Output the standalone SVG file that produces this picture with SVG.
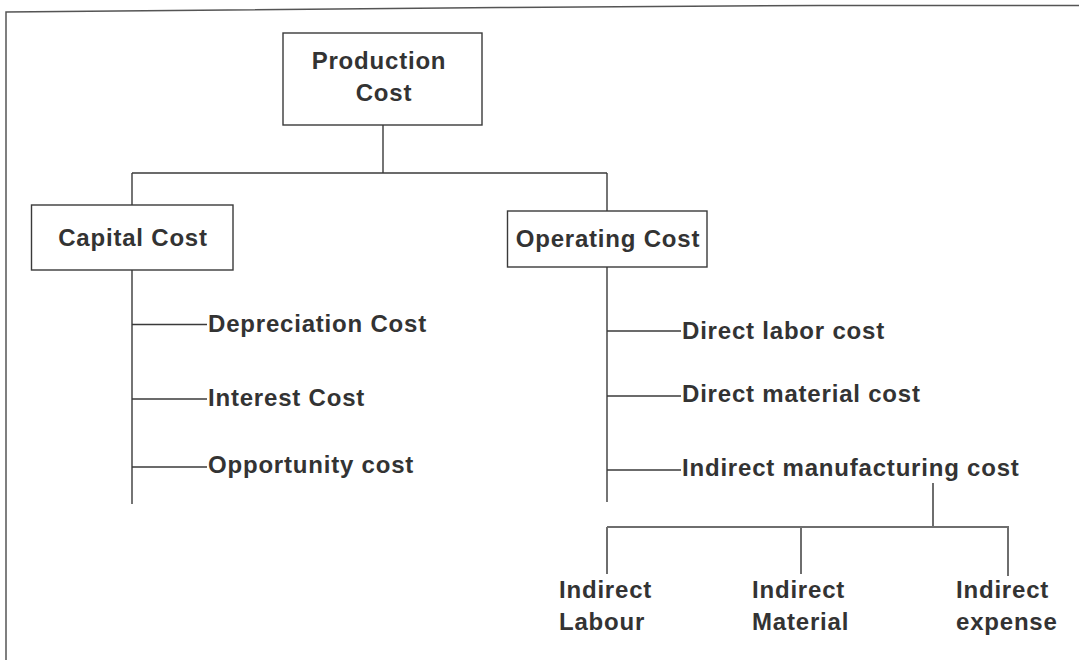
<svg xmlns="http://www.w3.org/2000/svg" width="1079" height="660" viewBox="0 0 1079 660">
  <style>
    .box { fill: #ffffff; stroke: #3a3a3a; stroke-width: 1.4; }
    .lbl { font-family: "Liberation Sans", Arial, sans-serif; font-weight: bold; font-size: 24px; letter-spacing: 0.8px; fill: #333333; }
    .mid { text-anchor: middle; }
    .wire { fill: none; stroke: #3a3a3a; stroke-width: 1.4; }
    .sub { fill: none; stroke: #6e6e6e; stroke-width: 2; }
    .frame { fill: none; stroke: #555555; stroke-width: 1.5; }
  </style>

  <rect width="1079" height="660" fill="#ffffff"/>

  <!-- page frame: top and left edges -->
  <polyline class="frame" points="6,660 6,12 500,7.5 820,5.5 1079,5.5"/>

  <!-- connectors -->
  <g id="connectors">
    <!-- root to the two cost groups -->
    <line class="wire" x1="383" y1="125" x2="383" y2="173"/>
    <line class="wire" x1="132" y1="173" x2="607" y2="173"/>
    <line class="wire" x1="132" y1="173" x2="132" y2="205"/>
    <line class="wire" x1="607" y1="173" x2="607" y2="211"/>

    <!-- capital cost spine and branches -->
    <line class="wire" x1="132" y1="270" x2="132" y2="504"/>
    <line class="wire" x1="132" y1="324.5" x2="207" y2="324.5"/>
    <line class="wire" x1="132" y1="399" x2="207" y2="399"/>
    <line class="wire" x1="132" y1="467" x2="207" y2="467"/>

    <!-- operating cost spine and branches -->
    <line class="wire" x1="607" y1="267" x2="607" y2="502"/>
    <line class="wire" x1="607" y1="331" x2="681" y2="331"/>
    <line class="wire" x1="607" y1="396" x2="681" y2="396"/>
    <line class="wire" x1="607" y1="470" x2="681" y2="470"/>

    <!-- indirect manufacturing cost breakdown -->
    <line class="sub" x1="933" y1="483" x2="933" y2="527"/>
    <line class="sub" x1="607" y1="527" x2="1008" y2="527"/>
    <line class="sub" x1="607" y1="527" x2="607" y2="574"/>
    <line class="sub" x1="801" y1="527" x2="801" y2="574"/>
    <line class="sub" x1="1008" y1="526" x2="1008" y2="576" stroke-width="3"/>
  </g>

  <g id="production-cost">
    <rect class="box" x="283" y="33" width="199" height="92"/>
    <text class="lbl mid" x="379" y="69">Production</text>
    <text class="lbl mid" x="384" y="101">Cost</text>
  </g>

  <g id="capital-cost">
    <rect class="box" x="31.5" y="205" width="201.5" height="65"/>
    <text class="lbl mid" x="133" y="246">Capital Cost</text>
  </g>

  <g id="operating-cost">
    <rect class="box" x="507.5" y="211" width="199.5" height="56"/>
    <text class="lbl mid" x="608" y="247">Operating Cost</text>
  </g>

  <g id="depreciation-cost">
    <text class="lbl" x="208" y="332">Depreciation Cost</text>
  </g>
  <g id="interest-cost">
    <text class="lbl" x="208" y="405.5">Interest Cost</text>
  </g>
  <g id="opportunity-cost">
    <text class="lbl" x="208" y="473">Opportunity cost</text>
  </g>

  <g id="direct-labor-cost">
    <text class="lbl" x="682" y="338.5">Direct labor cost</text>
  </g>
  <g id="direct-material-cost">
    <text class="lbl" x="682" y="402">Direct material cost</text>
  </g>
  <g id="indirect-manufacturing-cost">
    <text class="lbl" x="682" y="475.5">Indirect manufacturing cost</text>
  </g>

  <g id="indirect-labour">
    <text class="lbl" x="559" y="597.5">Indirect</text>
    <text class="lbl" x="559" y="630">Labour</text>
  </g>
  <g id="indirect-material">
    <text class="lbl" x="752" y="597.5">Indirect</text>
    <text class="lbl" x="752" y="630">Material</text>
  </g>
  <g id="indirect-expense">
    <text class="lbl" x="956" y="597.5">Indirect</text>
    <text class="lbl" x="956" y="630">expense</text>
  </g>
</svg>
